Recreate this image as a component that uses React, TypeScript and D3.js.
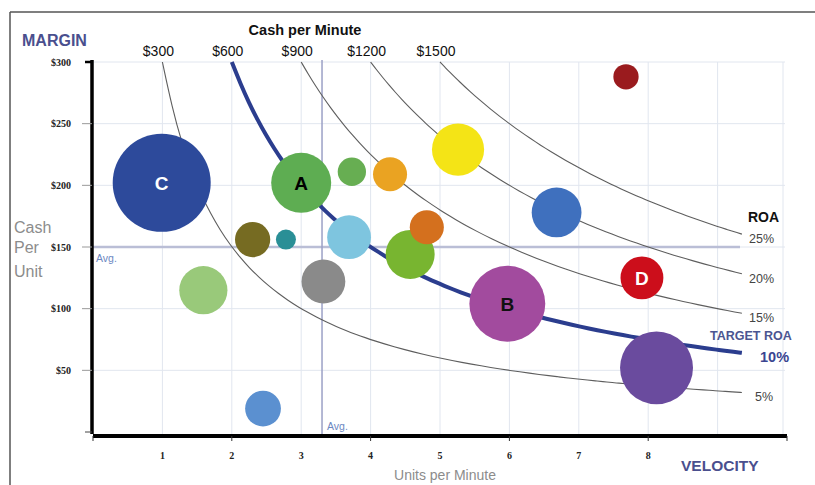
import React from "react";
import * as d3 from "d3";

// ---- data ----
const bubbleX = [0.99, 3.0, 3.73, 4.28, 5.26, 7.68, 6.68, 2.3, 2.78, 3.69, 4.57, 4.81, 1.59, 3.32, 5.97, 7.91, 8.12, 2.45];
const bubbleY = [202, 202, 211, 209, 229, 288, 178, 156, 156, 158, 144, 166, 115, 122, 104, 125, 52, 19];
const bubbleSize = [240, 90, 20, 29, 68, 16, 62, 31, 10, 48, 60, 29, 58, 48, 144, 46, 133, 32];
const bubbleColor = ["#2D4A9B", "#5EAD52", "#67AE52", "#EAA322", "#F4E416", "#9A1B1E", "#3F70BE", "#766B22", "#2A8F96", "#7EC5DF", "#78B530", "#D4701E", "#99C97A", "#8A8A8A", "#A24B9E", "#CC0E1B", "#6A4B9E", "#5B90D0"];
const bubbleLabel = ["C", "A", "", "", "", "", "", "", "", "", "", "", "", "", "B", "D", "", ""];
const bubbleLabelColor = ["#fff", "#000", "", "", "", "", "", "", "", "", "", "", "", "", "#111", "#fff", "", ""];

const cashLevels = [300, 600, 900, 1200, 1500];
const cashLabels = ["$300", "$600", "$900", "$1200", "$1500"];
const roaLabels = ["5%", "10%", "15%", "20%", "25%"];
const yTicks = [50, 100, 150, 200, 250, 300];
const yTickLabels = ["$50", "$100", "$150", "$200", "$250", "$300"];
const xTicks = [1, 2, 3, 4, 5, 6, 7, 8];
const avgX = 3.3;
const avgY = 150;

export default function App() {
  const x = d3.scaleLinear().domain([0, 10]).range([93, 787]);
  const y = d3.scaleLinear().domain([0, 300]).range([432, 62]);
  const r = d3.scaleSqrt().domain([0, 240]).range([0, 49]);
  const xEnd = 9.35;

  const line = d3
    .line<[number, number]>()
    .x((d) => x(d[0]))
    .y((d) => y(d[1]))
    .curve(d3.curveBasis);

  const curvePts = (c: number): [number, number][] => {
    const x0 = c / 300;
    const n = 60;
    return d3.range(n + 1).map((i) => {
      const xv = x0 + ((xEnd - x0) * i) / n;
      return [xv, c / xv];
    });
  };

  const font = "'Liberation Sans', Arial, sans-serif";
  const gridColor = "#E1E6EF";

  return (
    <svg width={815} height={485} style={{ position: "absolute", left: 0, top: 0, background: "#fff" }} fontFamily={font}>
      {/* border */}
      <line x1={10} y1={12} x2={815} y2={12} stroke="#555" strokeWidth={1.5} />
      <line x1={10} y1={12} x2={10} y2={485} stroke="#555" strokeWidth={1.5} />

      {/* grid */}
      {yTicks.map((t) => (
        <line key={"gy" + t} x1={x(0)} x2={785} y1={y(t)} y2={y(t)} stroke={gridColor} strokeWidth={1} />
      ))}
      {d3.range(1, 11).map((t) => (
        <line key={"gx" + t} x1={x(t) - (t === 10 ? 4 : 0)} x2={x(t) - (t === 10 ? 4 : 0)} y1={y(300)} y2={436} stroke={gridColor} strokeWidth={1} />
      ))}

      {/* average lines */}
      <line x1={x(0)} x2={740} y1={y(avgY)} y2={y(avgY)} stroke="#BABED6" strokeWidth={2.5} />
      <line x1={x(avgX)} x2={x(avgX)} y1={y(300) - 2} y2={436} stroke="#9BA1C6" strokeWidth={1.5} />
      <text x={96} y={262} fontSize={10.5} fill="#6C88C2">Avg.</text>
      <text x={x(avgX) + 5} y={430} fontSize={10.5} fill="#6C88C2">Avg.</text>

      {/* iso cash-per-minute curves */}
      {cashLevels.map((c) => (
        <path
          key={"c" + c}
          d={line(curvePts(c)) || ""}
          fill="none"
          stroke={c === 600 ? "#2B3D8E" : "#5E5E5E"}
          strokeWidth={c === 600 ? 4 : 1.1}
        />
      ))}

      {/* bubbles */}
      {bubbleX.map((bx, i) => (
        <g key={"b" + i}>
          <circle cx={x(bx)} cy={y(bubbleY[i])} r={r(bubbleSize[i])} fill={bubbleColor[i]} />
          {bubbleLabel[i] && (
            <text
              x={x(bx)}
              y={y(bubbleY[i]) + 7}
              textAnchor="middle"
              fontSize={19}
              fontWeight="bold"
              fill={bubbleLabelColor[i]}
            >
              {bubbleLabel[i]}
            </text>
          )}
        </g>
      ))}

      {/* y axis */}
      <line x1={92} x2={92} y1={y(300) - 2} y2={434} stroke="#000" strokeWidth={3.5} />
      {yTicks.map((t, i) => (
        <g key={"yt" + t}>
          <line x1={t === 300 ? 85 : 82} x2={92} y1={y(t)} y2={y(t)} stroke={t === 300 ? "#000" : "#999"} strokeWidth={t === 300 ? 2.5 : 1} />
          <text x={71} y={y(t) + 3.5} textAnchor="end" fontSize={10} fontWeight="bold" fontFamily="'Liberation Serif', serif" fill="#222">
            {yTickLabels[i]}
          </text>
        </g>
      ))}
      <line x1={85} x2={92} y1={432} y2={432} stroke="#444" strokeWidth={1} />

      {/* x axis */}
      <line x1={x(0)} x2={x(10)} y1={436} y2={436} stroke="#000" strokeWidth={4} />
      {[0, 2, 4, 6, 8, 10].map((t) => (
        <line key={"xm" + t} x1={x(t)} x2={x(t)} y1={436} y2={441} stroke="#333" strokeWidth={1} />
      ))}
      {xTicks.map((t) => (
        <text key={"xt" + t} x={x(t)} y={459} textAnchor="middle" fontSize={10} fontWeight="bold" fontFamily="'Liberation Serif', serif" fill="#222">
          {t}
        </text>
      ))}

      {/* titles */}
      <text x={22} y={46} fontSize={16} fontWeight="bold" fill="#4A4F8E">MARGIN</text>
      <text x={305} y={35} textAnchor="middle" fontSize={14.5} fontWeight="bold" fill="#111">Cash per Minute</text>
      {cashLevels.map((c, i) => (
        <text key={"cl" + c} x={x(c / 300) - 4} y={56} textAnchor="middle" fontSize={14} fill="#111">
          {cashLabels[i]}
        </text>
      ))}

      <text x={14} y={233} fontSize={16} fill="#8C8C8C">Cash</text>
      <text x={14} y={253} fontSize={16} fill="#8C8C8C">Per</text>
      <text x={14} y={277} fontSize={16} fill="#8C8C8C">Unit</text>

      <text x={681} y={471} fontSize={15.5} fontWeight="bold" fill="#4A4F8E">VELOCITY</text>
      <text x={445} y={480} textAnchor="middle" fontSize={14} fill="#8C8C8C">Units per Minute</text>

      {/* ROA labels */}
      <text x={748} y={222} fontSize={14} fontWeight="bold" fill="#111">ROA</text>
      {cashLevels.map((c, i) => {
        if (c === 600) return null;
        return (
          <text key={"roa" + c} x={c === 300 ? 755 : 749} y={y(c / xEnd) + 9} fontSize={12.5} fill="#444">
            {roaLabels[i]}
          </text>
        );
      })}
      <text x={710} y={340} fontSize={12.5} fontWeight="bold" fill="#4B5591">TARGET ROA</text>
      <text x={760} y={362} fontSize={14.5} fontWeight="bold" fill="#3B4591">{roaLabels[1]}</text>
    </svg>
  );
}
